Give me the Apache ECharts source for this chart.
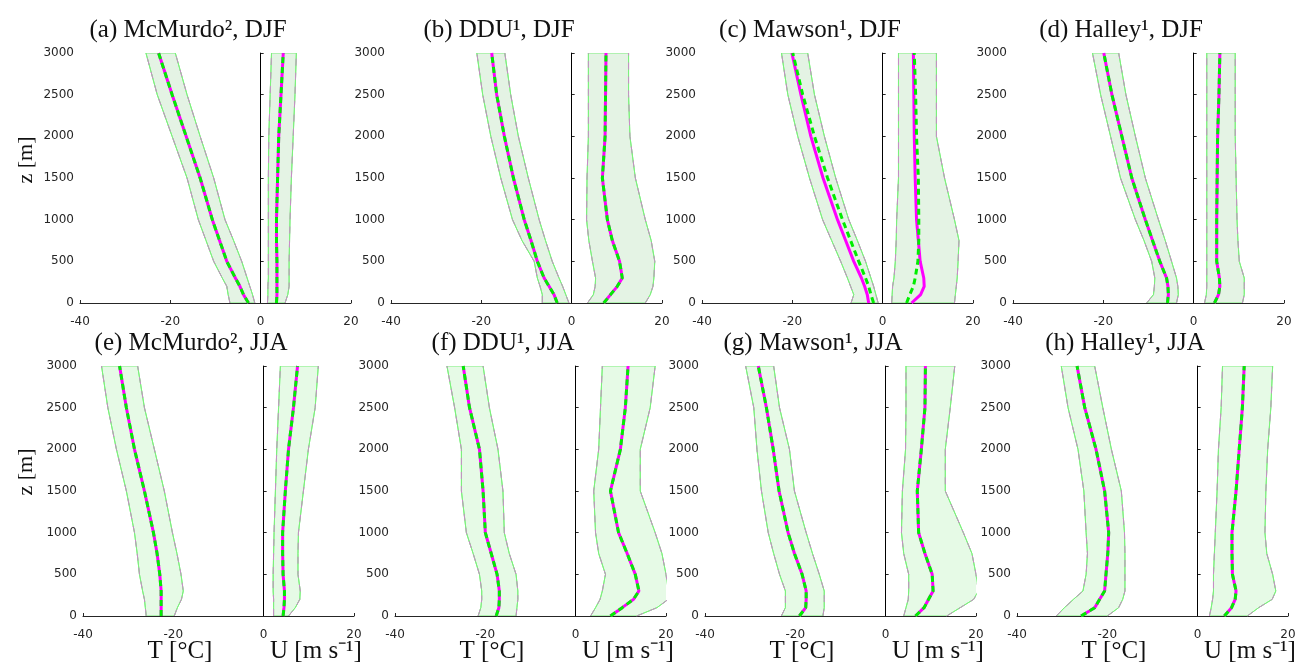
<!DOCTYPE html>
<html><head><meta charset="utf-8">
<script src="https://cdn.jsdelivr.net/npm/echarts@6/dist/echarts.min.js"></script>
<style>html,body{margin:0;background:#fff}#c{width:1299px;height:663px}</style>
</head><body><div id="c"></div><script>
// heights (m)
const heights = [0,100,200,300,500,750,1000,1500,2000,2500,3000];
const titles = ['(a) McMurdo², DJF','(b) DDU¹, DJF','(c) Mawson¹, DJF','(d) Halley¹, DJF',
                '(e) McMurdo², JJA','(f) DDU¹, JJA','(g) Mawson¹, JJA','(h) Halley¹, JJA'];

// (a) McMurdo DJF
const a_T   = [-2.7,-3.8,-4.6,-5.6,-7.5,-9.1,-10.7,-13.4,-16.5,-19.6,-22.6];
const a_Tlo = [-6.8,-7.2,-7.5,-8.5,-10.4,-12.1,-13.8,-16.3,-19.6,-22.9,-25.4];
const a_Thi = [-1.3,-1.8,-2.4,-3.0,-4.2,-6.0,-7.9,-10.4,-13.4,-16.3,-18.9];
const a_U   = [3.5,3.6,3.6,3.6,3.6,3.5,3.5,3.75,4.0,4.5,5.0];
const a_Ulo = [1.5,1.6,1.6,1.7,1.7,1.7,1.7,1.7,1.8,2.1,2.4];
const a_Uhi = [5.4,6.0,6.3,6.3,6.3,6.4,6.5,6.8,7.2,7.6,7.9];
// (b) DDU DJF
const b_T   = [-3.2,-3.9,-5.0,-6.1,-7.6,-9.0,-10.5,-12.9,-14.9,-16.6,-17.7];
const b_Tlo = [-6.5,-6.5,-7.0,-7.6,-8.3,-11.0,-13.1,-15.7,-17.9,-19.7,-21.0];
const b_Thi = [-0.6,-1.3,-2.0,-2.8,-4.3,-5.8,-7.2,-9.6,-11.8,-13.5,-14.8];
const b_U   = [7.1,8.6,10.1,11.2,10.6,9.0,7.9,6.8,7.4,7.5,7.6];
const b_Ulo = [3.5,4.8,5.2,5.3,4.6,3.8,3.3,3.4,3.7,3.7,3.7];
const b_Uhi = [16.3,17.4,18.0,18.2,18.4,17.6,16.3,14.1,12.9,12.6,12.6];
// (c) Mawson DJF
const c_T   = [-3.1,-3.4,-4.0,-4.7,-6.4,-8.2,-10.0,-13.2,-15.9,-18.1,-20.1];
const c_Tm  = [-2.0,-2.6,-3.1,-3.8,-5.3,-7.1,-8.9,-12.2,-15.1,-17.7,-19.9];
const c_Tlo = [-7.0,-6.4,-7.1,-7.8,-9.3,-11.3,-13.3,-16.2,-18.8,-21.0,-22.4];
const c_Thi = [-1.0,-1.5,-2.0,-2.6,-3.8,-5.6,-7.5,-10.4,-12.9,-15.1,-16.6];
const c_U   = [6.4,8.4,9.2,9.1,8.3,7.9,7.5,7.2,7.0,6.9,6.8];
const c_Um  = [5.3,6.0,6.8,7.2,7.8,8.0,8.0,7.9,7.5,7.3,7.0];
const c_Ulo = [2.0,2.1,2.2,2.5,2.8,3.0,3.1,3.5,3.5,3.5,3.5];
const c_Uhi = [15.9,16.1,16.3,16.5,16.7,16.9,15.9,13.7,11.9,11.9,11.9];
// (d) Halley DJF
const d_T   = [-5.8,-5.6,-5.7,-6.0,-7.5,-9.1,-10.7,-13.7,-15.9,-18.1,-19.9];
const d_Tlo = [-10.4,-8.9,-8.7,-8.6,-9.3,-11.0,-12.9,-16.2,-18.4,-20.6,-22.4];
const d_Thi = [-3.8,-3.4,-3.5,-3.8,-4.9,-6.3,-7.8,-10.7,-12.9,-15.0,-16.6];
const d_U   = [4.6,5.5,5.8,5.7,5.1,5.1,5.1,5.2,5.3,5.6,5.8];
const d_Ulo = [2.4,2.8,2.9,2.9,2.9,2.9,2.9,2.9,2.9,2.9,2.9];
const d_Uhi = [10.8,11.2,11.2,11.2,10.1,9.8,9.6,9.4,9.2,9.2,9.2];
// (e) McMurdo JJA
const e_T   = [-22.7,-22.7,-22.7,-22.7,-23.0,-23.6,-24.4,-26.4,-28.6,-30.4,-31.9];
const e_Tlo = [-26.0,-26.2,-26.4,-26.8,-27.5,-28.0,-28.6,-30.4,-32.6,-34.5,-35.9];
const e_Thi = [-19.8,-19.1,-18.2,-17.8,-18.3,-19.2,-20.2,-22.0,-24.2,-26.4,-27.9];
const e_U   = [4.3,4.5,4.6,4.6,4.3,4.2,4.2,4.8,5.5,6.6,7.5];
const e_Ulo = [2.2,2.2,2.2,2.1,2.1,2.2,2.3,2.6,2.9,3.3,3.7];
const e_Uhi = [5.5,7.0,8.0,8.1,7.6,7.6,7.7,8.8,9.9,11.4,12.1];
// (f) DDU JJA
const f_T   = [-17.6,-17.0,-16.9,-16.9,-17.4,-18.7,-20.0,-20.5,-21.3,-23.5,-24.9];
const f_Tlo = [-21.6,-21.0,-20.8,-20.8,-21.3,-22.7,-24.2,-25.3,-25.3,-26.8,-28.5];
const f_Thi = [-13.2,-13.0,-12.8,-12.8,-13.2,-14.7,-15.8,-16.1,-17.2,-19.1,-20.5];
const f_U   = [7.7,10.3,12.8,14.0,13.2,11.4,9.5,7.7,9.9,11.0,11.6];
const f_Ulo = [3.3,4.4,5.4,5.9,6.6,5.1,4.4,4.0,5.1,5.5,5.9];
const f_Uhi = [13.5,18.0,20.5,20.5,20.0,19.1,17.6,14.3,14.3,16.5,17.6];
// (g) Mawson JJA
const g_T   = [-19.1,-17.7,-17.6,-17.6,-18.5,-20.2,-21.6,-23.6,-24.9,-26.4,-28.2];
const g_Tlo = [-23.1,-22.2,-22.2,-22.2,-23.5,-24.8,-26.0,-27.5,-28.5,-29.2,-31.0];
const g_Thi = [-13.9,-13.6,-13.6,-13.6,-14.7,-16.2,-17.6,-20.2,-21.3,-23.5,-24.8];
const g_U   = [6.6,8.5,9.5,10.5,10.3,8.7,7.3,7.0,7.9,8.7,8.8];
const g_Ulo = [4.0,4.5,5.0,5.1,5.1,4.0,3.5,3.7,4.4,4.5,4.5];
const g_Uhi = [13.5,16.5,19.5,20.5,20.0,19.1,17.2,13.2,13.2,14.3,15.3];
// (h) Halley JJA
const h_T   = [-25.8,-22.8,-21.7,-20.6,-20.3,-19.9,-19.7,-20.6,-22.5,-25.0,-26.7];
const h_Tlo = [-31.3,-29.5,-27.5,-25.4,-24.7,-24.4,-24.7,-25.2,-26.5,-28.7,-30.2];
const h_Thi = [-20.0,-17.5,-16.6,-16.1,-16.1,-16.1,-16.2,-16.9,-19.1,-21.0,-22.8];
const h_U   = [5.9,7.5,8.3,8.5,7.7,7.6,7.6,8.5,9.2,9.9,10.3];
const h_Ulo = [2.6,3.0,3.3,3.5,3.5,3.7,3.9,4.3,4.6,5.2,5.5];
const h_Uhi = [11.0,13.5,16.5,17.3,16.6,15.3,14.9,15.1,15.5,16.2,16.6];

const panels = [
  {T:a_T,Tm:a_T,Tlo:a_Tlo,Thi:a_Thi,U:a_U,Um:a_U,Ulo:a_Ulo,Uhi:a_Uhi},
  {T:b_T,Tm:b_T,Tlo:b_Tlo,Thi:b_Thi,U:b_U,Um:b_U,Ulo:b_Ulo,Uhi:b_Uhi},
  {T:c_T,Tm:c_Tm,Tlo:c_Tlo,Thi:c_Thi,U:c_U,Um:c_Um,Ulo:c_Ulo,Uhi:c_Uhi},
  {T:d_T,Tm:d_T,Tlo:d_Tlo,Thi:d_Thi,U:d_U,Um:d_U,Ulo:d_Ulo,Uhi:d_Uhi},
  {T:e_T,Tm:e_T,Tlo:e_Tlo,Thi:e_Thi,U:e_U,Um:e_U,Ulo:e_Ulo,Uhi:e_Uhi},
  {T:f_T,Tm:f_T,Tlo:f_Tlo,Thi:f_Thi,U:f_U,Um:f_U,Ulo:f_Ulo,Uhi:f_Uhi},
  {T:g_T,Tm:g_T,Tlo:g_Tlo,Thi:g_Thi,U:g_U,Um:g_U,Ulo:g_Ulo,Uhi:g_Uhi},
  {T:h_T,Tm:h_T,Tlo:h_Tlo,Thi:h_Thi,U:h_U,Um:h_U,Ulo:h_Ulo,Uhi:h_Uhi}
];

// layout
const gridLefts = [80,391,702,1013,83,395,705,1017];
const gridTops = [53,53,53,53,366,366,366,366];
const GW = 271, GH = 250;
const fills = ['#e4f3e4','#e4f3e4','#e4f3e4','#e4f3e4','#e6fae6','#e6fae6','#e6fae6','#e6fae6'];
const AX = '#262626';
const serif = 'Liberation Serif';

const grids=[], xAxes=[], yAxes=[], series=[], graphics=[];
const pairs = arr => heights.map((z,i)=>[arr[i], z]);

function band(gi, lo, hi, fill){
  return {
    type:'custom', xAxisIndex:gi, yAxisIndex:gi, silent:true, z:1,
    data: heights.map((z,i)=>[lo[i], hi[i], z]),
    encode:{x:[0,1], y:2},
    renderItem:(params, api)=>{
      if (params.dataIndex !== 0) return {type:'group', children:[]};
      const pts=[];
      for (let i=0;i<heights.length;i++) pts.push(api.coord([lo[i], heights[i]]));
      for (let i=heights.length-1;i>=0;i--) pts.push(api.coord([hi[i], heights[i]]));
      const cs = params.coordSys;
      return {type:'polygon', shape:{points:pts}, style:{fill:fill, stroke:'#7cf07c', lineWidth:1},
        clipPath:{type:'rect', shape:{x:cs.x, y:cs.y, width:cs.width, height:cs.height}}};
    }
  };
}
function line(gi, arr, color, width, z, dash){
  return {type:'line', xAxisIndex:gi, yAxisIndex:gi, data:pairs(arr), symbol:'none',
    silent:true, z:z, lineStyle:{color:color, width:width, type:dash || 'solid'}, animation:false, clip:true};
}

panels.forEach((p, gi)=>{
  grids.push({left:gridLefts[gi], top:gridTops[gi], width:GW, height:GH});
  xAxes.push({type:'value', gridIndex:gi, min:-40, max:20, interval:20,
    axisLine:{show:true, onZero:false, lineStyle:{color:AX, width:1}},
    axisTick:{show:true, inside:true, length:3, lineStyle:{color:AX}},
    splitLine:{show:false},
    axisLabel:{fontSize:12, color:AX, fontFamily:'DejaVu Sans', margin:13}});
  yAxes.push({type:'value', gridIndex:gi, min:0, max:3000, interval:500,
    axisLine:{show:true, lineStyle:{color:AX, width:1}},
    axisTick:{show:true, inside:true, length:3, lineStyle:{color:AX}},
    splitLine:{show:false},
    axisLabel:{fontSize:12, color:AX, fontFamily:'DejaVu Sans', margin:6, formatter:v=>String(v)}});
  const f = fills[gi];
  series.push(band(gi, p.Tlo, p.Thi, f));
  series.push(band(gi, p.Ulo, p.Uhi, f));
  [p.Tlo, p.Thi, p.Ulo, p.Uhi].forEach(arr=>{
    series.push(line(gi, arr, '#7cf07c', 1, 2));
    series.push(line(gi, arr, '#c98ac9', 1, 3, [7,7]));
  });
  const tMean = line(gi, p.T, '#ff00ff', 3, 4);
  tMean.markLine = {silent:true, symbol:'none', animation:false, label:{show:false},
    lineStyle:{color:'#000', width:1, type:'solid'}, data:[{xAxis:0}]};
  series.push(tMean);
  series.push(line(gi, p.U, '#ff00ff', 3, 4));
  series.push(line(gi, p.Tm, '#00ee00', 3, 5, [6,4]));
  series.push(line(gi, p.Um, '#00ee00', 3, 5, [6,4]));

  graphics.push({type:'text', x:gridLefts[gi]+108, y:gridTops[gi]-23,
    style:{text:titles[gi], font:'25px "'+serif+'"', fill:'#111', textAlign:'center', textVerticalAlign:'middle'}});
  if (gi>=4){
    graphics.push({type:'text', x:gridLefts[gi]+97, y:651,
      style:{text:'T [°C]', font:'25px "'+serif+'"', fill:'#111', textAlign:'center', textVerticalAlign:'middle'}});
    graphics.push({type:'text', x:gridLefts[gi]+233, y:651,
      style:{text:'U [m s⁻¹]', font:'25px "'+serif+'"', fill:'#111', textAlign:'center', textVerticalAlign:'middle'}});
  }
});
[160, 472].forEach(yc=>{
  graphics.push({type:'text', x:26, y:yc, rotation:Math.PI/2,
    style:{text:'z [m]', font:'22px "'+serif+'"', fill:'#111', textAlign:'center', textVerticalAlign:'middle'}});
});

const chart = echarts.init(document.getElementById('c'), null, {renderer:'canvas'});
chart.setOption({animation:false, backgroundColor:'#fff', grid:grids, xAxis:xAxes, yAxis:yAxes, series:series, graphic:graphics});
</script></body></html>
